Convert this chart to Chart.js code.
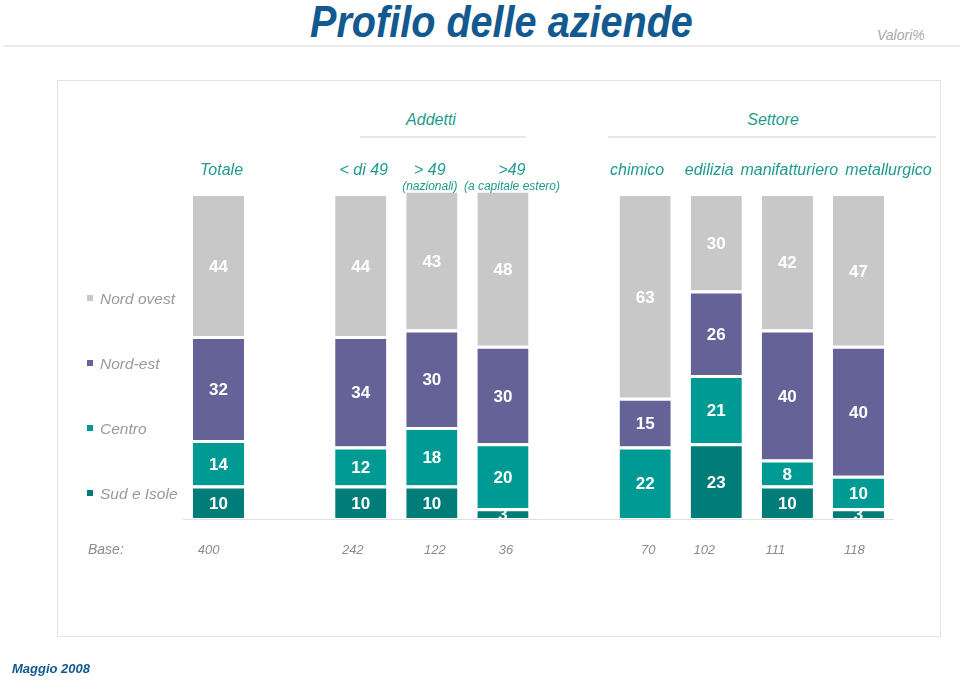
<!DOCTYPE html>
<html>
<head>
<meta charset="utf-8">
<title>Profilo delle aziende</title>
<script src="https://cdn.jsdelivr.net/npm/chart.js@4.4.1/dist/chart.umd.min.js"></script>
<style>
  body { margin: 0; background: #fff; font-family: 'Liberation Sans', Arial, sans-serif; }
  #page { position: relative; width: 960px; height: 680px; overflow: hidden; }
  #chart { position: absolute; left: 0; top: 0; }
  .title { position: absolute; left: 310px; top: 0px; font-size: 44px; line-height: 44px; font-weight: bold; font-style: italic; color: #11598f; transform: scaleX(0.9); transform-origin: left top; white-space: nowrap; }
  .valori { position: absolute; left: 877px; top: 28px; font-size: 14px; line-height: 14px; font-style: italic; color: #a8a8a8; }
  .rule { position: absolute; height: 2px; background: #e8e8e8; }
  .panel { position: absolute; left: 57px; top: 80px; width: 882px; height: 555px; border: 1px solid #e3e3e3; }
  .group { position: absolute; top: 112px; font-size: 16px; line-height: 16px; font-style: italic; color: #1f9a8e; transform: translateX(-50%); }
  .footer { position: absolute; left: 12px; top: 662px; font-size: 13px; line-height: 14px; font-weight: bold; font-style: italic; color: #11598f; }
</style>
</head>
<body>
<div id="page">
  <div class="title">Profilo delle aziende</div>
  <div class="valori">Valori%</div>
  <div class="rule" style="left:4px; top:45px; width:956px;"></div>
  <div class="panel"></div>
  <div class="group" style="left:431px;">Addetti</div>
  <div class="group" style="left:773px;">Settore</div>
  <div class="rule" style="left:360px; top:136px; width:166px;"></div>
  <div class="rule" style="left:608px; top:136px; width:328px;"></div>
  <canvas id="chart" width="960" height="680"></canvas>
  <div class="footer">Maggio 2008</div>
</div>

<script>
// categorie (le colonne vuote fanno da separatore tra i gruppi)
const categories = ['Totale', '', '< di 49', '> 49', '>49', '', 'chimico', 'edilizia', 'manifatturiero', 'metallurgico'];
const subLabels = ['', '', '', '(nazionali)', '(a capitale estero)', '', '', '', '', ''];

// valori % per area geografica
const nordOvest = [44, null, 44, 43, 48, null, 63, 30, 42, 47];
const nordEst = [32, null, 34, 30, 30, null, 15, 26, 40, 40];
const centro = [14, null, 12, 18, 20, null, 22, 21, 8, 10];
const sudIsole = [10, null, 10, 10, 3, null, null, 23, 10, 3];

// basi (numero di aziende)
const baseValues = [400, null, 242, 122, 36, null, 70, 102, 111, 118];

// piccoli spostamenti orizzontali delle etichette rispetto al centro della barra
const headShift = [3, 0, 3, -2, 9, 0, -8, -7, 2, 30];
const baseShift = [-10, 0, -8, 3, 3, 0, 3, -12, -12, -4];
const legendY = [300, 365, 430, 495];

const FONT = "'Liberation Sans', Arial, sans-serif";
const GAP = 3;

// etichette, legenda e riga "Base" disegnate sopra il grafico
const overlayPlugin = {
    id: 'overlay',
    afterDatasetsDraw(chart) {
        const ctx = chart.ctx;
        const xScale = chart.scales.x;
        const area = chart.chartArea;
        ctx.save();

        // valori dentro le barre
        ctx.font = 'bold 17px ' + FONT;
        ctx.fillStyle = '#ffffff';
        ctx.textAlign = 'center';
        ctx.textBaseline = 'middle';
        chart.data.datasets.forEach((ds, d) => {
            const meta = chart.getDatasetMeta(d);
            meta.data.forEach((bar, i) => {
                const v = ds.data[i];
                if (v == null) return;
                ctx.fillText(String(v), bar.x, (bar.y + GAP + bar.base) / 2 + 1);
            });
        });

        // linea di base
        ctx.strokeStyle = '#e0e0e0';
        ctx.lineWidth = 1;
        ctx.beginPath();
        ctx.moveTo(area.left, area.bottom + 1.5);
        ctx.lineTo(area.right, area.bottom + 1.5);
        ctx.stroke();

        // intestazioni delle colonne
        ctx.fillStyle = '#1f9a8e';
        categories.forEach((c, i) => {
            if (!c) return;
            const x = xScale.getPixelForValue(i) + headShift[i];
            ctx.font = 'italic 16px ' + FONT;
            ctx.fillText(c, x, 171);
            if (subLabels[i]) {
                ctx.font = 'italic 12px ' + FONT;
                ctx.fillText(subLabels[i], x, 187);
            }
        });

        // legenda a sinistra
        const legendSets = chart.data.datasets.slice().reverse();
        ctx.textAlign = 'left';
        ctx.font = 'italic 15.5px ' + FONT;
        legendSets.forEach((ds, k) => {
            ctx.fillStyle = ds.backgroundColor;
            ctx.fillRect(87, legendY[k] - 5, 6, 6);
            ctx.fillStyle = '#9a9a9a';
            ctx.fillText(ds.label, 100, legendY[k]);
        });

        // riga delle basi
        ctx.fillStyle = '#8c8c8c';
        ctx.font = 'italic 14px ' + FONT;
        ctx.fillText('Base:', 88, 550);
        ctx.textAlign = 'center';
        ctx.font = 'italic 13px ' + FONT;
        baseValues.forEach((b, i) => {
            if (b == null) return;
            ctx.fillText(String(b), xScale.getPixelForValue(i) + baseShift[i], 550);
        });

        ctx.restore();
    }
};

function makeSet(label, values, color) {
    return {
        label: label,
        data: values,
        backgroundColor: color,
        borderColor: '#ffffff',
        borderWidth: { top: GAP, right: 0, bottom: 0, left: 0 },
        borderSkipped: false,
        barPercentage: 0.72,
        categoryPercentage: 1,
        clip: false
    };
}

function initChart() {
    const ctx = document.getElementById('chart').getContext('2d');
    new Chart(ctx, {
        type: 'bar',
        data: {
            labels: categories,
            datasets: [
                makeSet('Sud e Isole', sudIsole, '#007c79'),
                makeSet('Centro', centro, '#009a94'),
                makeSet('Nord-est', nordEst, '#646297'),
                makeSet('Nord ovest', nordOvest, '#c8c8c8')
            ]
        },
        options: {
            responsive: false,
            animation: false,
            devicePixelRatio: 1,
            events: [],
            layout: { padding: { left: 183, right: 66, top: 193, bottom: 162 } },
            scales: {
                x: { display: false, stacked: true },
                y: { display: false, stacked: true, min: 0, max: 100 }
            },
            plugins: {
                legend: { display: false },
                tooltip: { enabled: false }
            }
        },
        plugins: [overlayPlugin]
    });
}

window.onload = initChart;
</script>
</body>
</html>
